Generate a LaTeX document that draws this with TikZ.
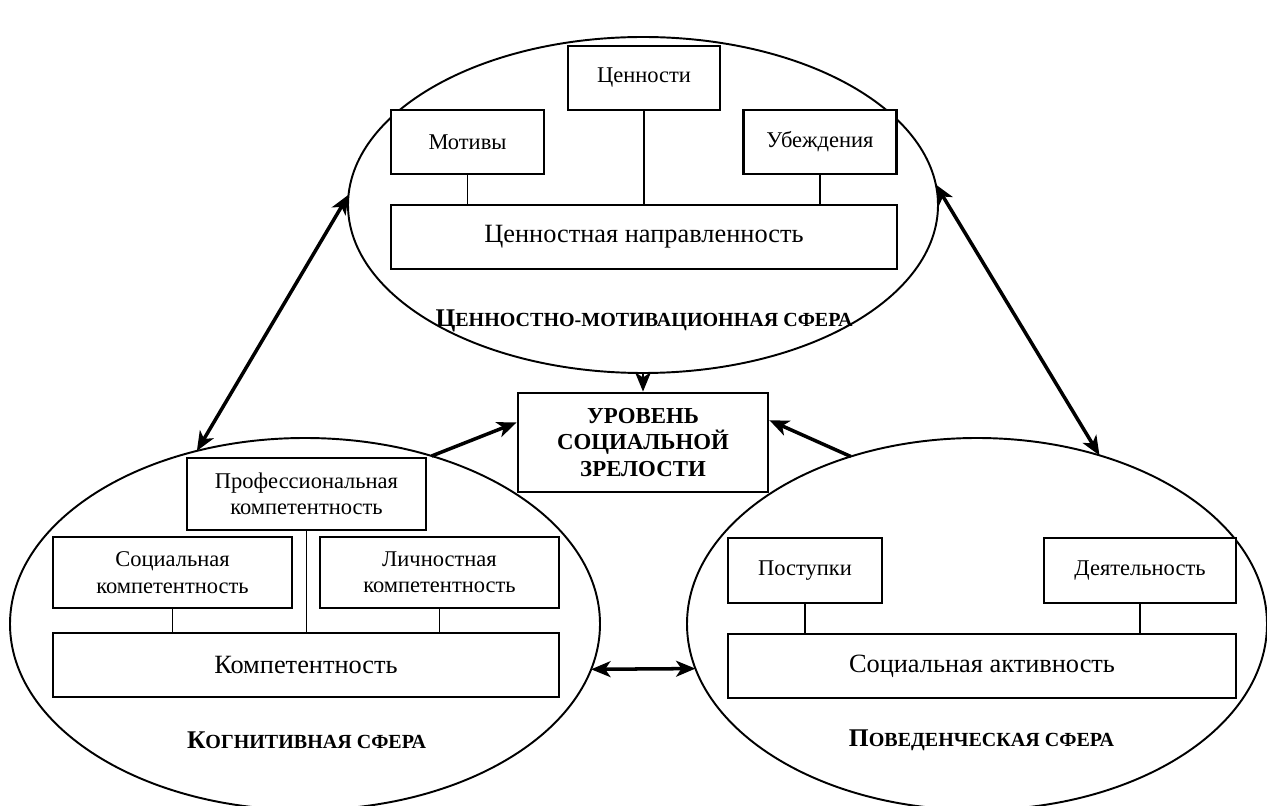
\documentclass[tikz,border=0pt]{standalone}
\usepackage{fontspec}
\setmainfont{Liberation Serif}
\usepackage{tikz}
\usetikzlibrary{arrows.meta,shapes.geometric}

% small-caps look for the sphere names
\newcommand{\capsname}[2]{{\fontsize{14.5}{17}\selectfont #1}{\fontsize{11.4}{17}\selectfont #2}}

\begin{document}
\begin{tikzpicture}[
    sphere/.style={draw, ellipse, line width=1.1pt, inner sep=0pt, outer sep=0pt},
    item/.style={draw, fill=white, line width=1.5pt, align=center, inner sep=0pt,
        font=\fontsize{12.8}{15}\selectfont},
    base/.style={draw, fill=white, line width=1.5pt, inner sep=0pt,
        minimum width=10.12cm, minimum height=1.28cm, font=\fontsize{15}{18}\selectfont},
    goal/.style={draw, fill=white, line width=1.6pt, align=center, inner sep=0pt,
        minimum width=5cm, minimum height=1.98cm, font=\bfseries\fontsize{13}{15.3}\selectfont},
    title/.style={font=\bfseries},
    link/.style={line width=1.1pt},
    tip/.style={Stealth[length=11pt,width=9pt,inset=3pt]},
    arr/.style={line width=2pt, -{Stealth[length=11pt,width=9pt,inset=3pt]}},
    darr/.style={line width=2pt, {Stealth[length=11pt,width=9pt,inset=3pt]}-{Stealth[length=11pt,width=9pt,inset=3pt]}}
]
\useasboundingbox (0,0) rectangle (25.34,16.1);
\clip (0,0) rectangle (25.34,16.1);

% Three spheres
\node[sphere, minimum width=11.8cm, minimum height=6.72cm] (valsph) at (12.86,12.0) {};
\node[sphere, minimum width=11.8cm, minimum height=7.44cm] (cogsph) at (6.10,3.62) {};
\node[sphere, minimum width=11.6cm, minimum height=7.44cm] (behsph) at (19.54,3.62) {};

% Value-motivation sphere
\node[item, minimum width=3.04cm, minimum height=1.28cm] (val) at (12.88,14.54) {Ценности};
\node[item, minimum width=3.06cm, minimum height=1.28cm] (mot) at (9.35,13.26) {Мотивы};
\node[item, minimum width=3.06cm, minimum height=1.28cm] (bel) at (16.40,13.26) {Убеждения};
\node[base] (orient) at (12.88,11.36) {Ценностная направленность};
\node[title] (valname) at (12.88,9.68) {\capsname{Ц}{ЕННОСТНО-МОТИВАЦИОННАЯ СФЕРА}};
\draw[link] (mot.south) -- (mot.south |- orient.north);
\draw[link] (val.south) -- (val.south |- orient.north);
\draw[link] (bel.south) -- (bel.south |- orient.north);

% Cognitive sphere
\node[item, minimum width=4.78cm, minimum height=1.44cm] (prof) at (6.13,6.22) {Профессиональная\\компетентность};
\node[item, minimum width=4.78cm, minimum height=1.42cm] (soc) at (3.45,4.65) {Социальная\\компетентность};
\node[item, minimum width=4.78cm, minimum height=1.42cm] (pers) at (8.79,4.65) {Личностная\\компетентность};
\node[base] (comp) at (6.12,2.80) {Компетентность};
\node[title] (cogname) at (6.13,1.30) {\capsname{К}{ОГНИТИВНАЯ СФЕРА}};
\draw[link] (soc.south) -- (soc.south |- comp.north);
\draw[link] (pers.south) -- (pers.south |- comp.north);
\draw[link] (prof.south) -- (prof.south |- comp.north);

% Behavioural sphere
\node[item, minimum width=3.08cm, minimum height=1.30cm] (acts) at (16.10,4.69) {Поступки};
\node[item, minimum width=3.84cm, minimum height=1.30cm] (work) at (22.80,4.69) {Деятельность};
\node[base, minimum width=10.16cm] (activ) at (19.64,2.78) {Социальная активность};
\node[title] (behname) at (19.63,1.30) {\capsname{П}{ОВЕДЕНЧЕСКАЯ СФЕРА}};
\draw[link] (acts.south) -- (acts.south |- activ.north);
\draw[link] (work.south) -- (work.south |- activ.north);

% Result
\node[goal] (level) at (12.86,7.25) {УРОВЕНЬ\\СОЦИАЛЬНОЙ\\ЗРЕЛОСТИ};

% Links between the spheres
\draw[arr, line width=1.4pt] (valsph.south) -- (level.north);
\draw[arr] (cogsph.53) -- (level.171);
\draw[arr] (behsph.127.5) -- (level.10);
\draw[darr] (valsph.178.6) -- (cogsph.122.4);
\draw[darr] (valsph.4.8) -- (behsph.54.1);
\draw[darr] (cogsph.-9.3) -- (behsph.189.5);
\end{tikzpicture}
\end{document}
